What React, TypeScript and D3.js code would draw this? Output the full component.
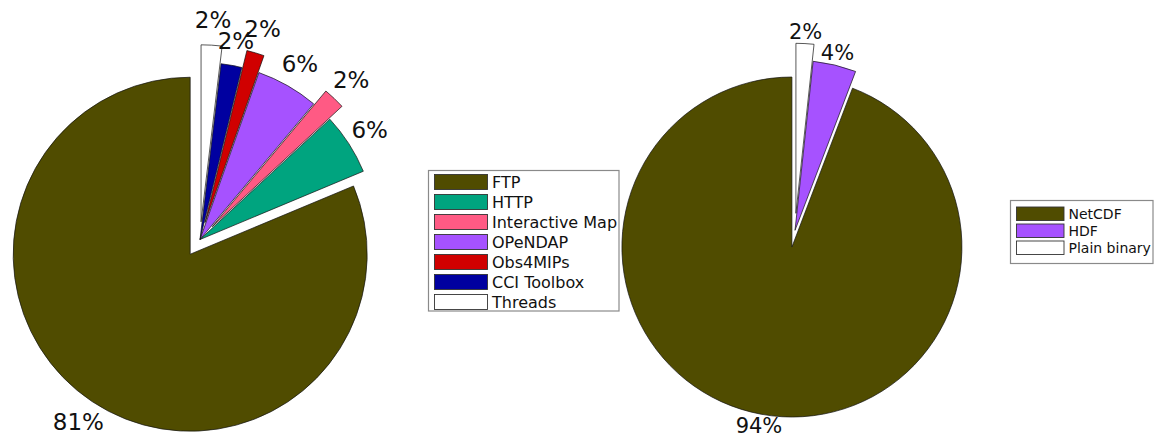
import React from "react";
import * as d3 from "d3";

const protocols = ["FTP", "HTTP", "Interactive Map", "OPeNDAP", "Obs4MIPs", "CCI Toolbox", "Threads"];
const protocolShares = [81.3, 5.6, 2.0, 5.7, 1.6, 1.9, 1.9];
const protocolExplode = [1, 0, 1, 0, 1, 0, 1];
const protocolColors = ["#504c00", "#00a47f", "#ff5a84", "#a652ff", "#d00000", "#0000a0", "#ffffff"];

const formats = ["NetCDF", "HDF", "Plain binary"];
const formatShares = [94.2, 4.1, 1.7];
const formatExplode = [1, 0, 1];
const formatColors = ["#504c00", "#a652ff", "#ffffff"];

type PieProps = {
  values: number[];
  explode: number[];
  colors: string[];
  cx: number;
  cy: number;
  r: number;
  labelK: number;
  fontSize: number;
};

function Pie({ values, explode, colors, cx, cy, r, labelK, fontSize }: PieProps) {
  const total = d3.sum(values);
  const cum = d3.cumsum(values);
  const angle = d3.scaleLinear().domain([0, total]).range([0, -2 * Math.PI]);
  const arc = d3.arc<any>().innerRadius(0).outerRadius(r);
  const slices = values.map((v, i) => {
    const c0 = i === 0 ? 0 : cum[i - 1];
    const c1 = cum[i];
    const a0 = angle(c1);
    const a1 = angle(c0);
    const mid = (a0 + a1) / 2;
    const dx = Math.sin(mid);
    const dy = -Math.cos(mid);
    const off = explode[i] ? 0.1 * r : 0;
    const lr = labelK * r;
    return { v, a0, a1, dx, dy, off, lr, color: colors[i] };
  });
  return (
    <g transform={`translate(${cx},${cy})`}>
      {slices.map((s, i) => (
        <path
          key={"p" + i}
          d={arc({ startAngle: s.a0, endAngle: s.a1 }) as string}
          transform={`translate(${s.dx * s.off},${s.dy * s.off})`}
          fill={s.color}
          stroke="#111"
          strokeWidth={0.7}
        />
      ))}
      {slices.map((s, i) => (
        <text
          key={"t" + i}
          x={s.dx * (s.lr + s.off)}
          y={s.dy * (s.lr + s.off)}
          textAnchor="middle"
          dominantBaseline="central"
          fontFamily="DejaVu Sans"
          fontSize={fontSize}
          fill="#111"
        >
          {Math.round((s.v / total) * 100) + "%"}
        </text>
      ))}
    </g>
  );
}

type LegendProps = {
  names: string[];
  colors: string[];
  x: number;
  y: number;
  w: number;
  h: number;
  sw: number;
  sh: number;
  pitch: number;
  pad: number;
  fontSize: number;
};

function Legend({ names, colors, x, y, w, h, sw, sh, pitch, pad, fontSize }: LegendProps) {
  return (
    <g>
      <rect x={x} y={y} width={w} height={h} fill="#fff" stroke="#8a8a8a" strokeWidth={1.2} />
      {names.map((n, i) => (
        <g key={n} transform={`translate(${x + 6},${y + pad + i * pitch})`}>
          <rect x={0} y={0} width={sw} height={sh} fill={colors[i]} stroke="#333" strokeWidth={0.9} />
          <text
            x={sw + 4.5}
            y={sh / 2 + 0.5}
            dominantBaseline="central"
            fontFamily="DejaVu Sans"
            fontSize={fontSize}
            fill="#111"
          >
            {n}
          </text>
        </g>
      ))}
    </g>
  );
}

export default function App() {
  return (
    <svg
      width={1155}
      height={440}
      style={{ position: "absolute", left: 0, top: 0, background: "#fff" }}
    >
      <Pie
        values={protocolShares}
        explode={protocolExplode}
        colors={protocolColors}
        cx={200}
        cy={239.5}
        r={177}
        labelK={1.14}
        fontSize={23}
      />
      <Legend
        names={protocols}
        colors={protocolColors}
        x={428.5}
        y={170.5}
        w={190.5}
        h={140.5}
        sw={53}
        sh={15}
        pitch={20}
        pad={4}
        fontSize={16}
      />
      <Pie
        values={formatShares}
        explode={formatExplode}
        colors={formatColors}
        cx={795}
        cy={230.3}
        r={170}
        labelK={1.07}
        fontSize={21}
      />
      <Legend
        names={formats}
        colors={formatColors}
        x={1010.5}
        y={200.5}
        w={142.5}
        h={63}
        sw={47.5}
        sh={13.5}
        pitch={17}
        pad={6.5}
        fontSize={14}
      />
    </svg>
  );
}
